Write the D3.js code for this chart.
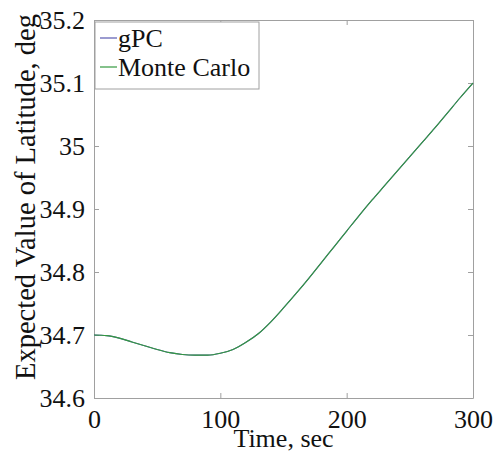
<!DOCTYPE html>
<html>
<head>
<meta charset="utf-8">
<script src="https://cdn.jsdelivr.net/npm/d3@7"></script>
<style>
    body { margin: 0; background: #fff; }
    svg { display: block; }
    text { font-family: "Liberation Serif", "Times New Roman", serif; fill: #111; }
</style>
</head>
<body>
<div id="chart"></div>
<script>
// Data (time in sec, latitude in deg)
const time = [0, 10, 20, 30, 40, 50, 60, 70, 80, 90, 100, 110, 120, 130, 140, 150,
    160, 170, 180, 190, 200, 210, 220, 230, 240, 250, 260, 270, 280, 290, 300]
const gpcLat = [34.700, 34.699, 34.695, 34.689, 34.683, 34.677, 34.672, 34.669, 34.668, 34.668,
    34.671, 34.677, 34.688, 34.702, 34.721, 34.743, 34.766, 34.790, 34.815, 34.840,
    34.865, 34.890, 34.914, 34.937, 34.960, 34.983, 35.006, 35.029, 35.053, 35.077, 35.100]
const monteCarloLat = [34.700, 34.699, 34.695, 34.689, 34.683, 34.677, 34.672, 34.669, 34.668, 34.668,
    34.671, 34.677, 34.688, 34.702, 34.721, 34.743, 34.766, 34.790, 34.815, 34.840,
    34.865, 34.890, 34.914, 34.937, 34.960, 34.983, 35.006, 35.029, 35.053, 35.077, 35.100]
const xTicks = [0, 100, 200, 300]
const yTicks = [34.6, 34.7, 34.8, 34.9, 35, 35.1, 35.2]
const seriesNames = ['gPC', 'Monte Carlo']
const seriesColors = ['#5858b0', '#33993f']

// Base settings
const settings = {
    width: 499,
    height: 454,
    margin: {left: 94, right: 26, top: 20, bottom: 56},
    frameColor: '#a0a0a0',
    fontSize: 26
}
const plotW = settings.width - settings.margin.left - settings.margin.right
const plotH = settings.height - settings.margin.top - settings.margin.bottom

const svg = d3.select('#chart').append('svg')
    .attr('width', settings.width)
    .attr('height', settings.height)

const x = d3.scaleLinear().domain([0, 300]).range([0, plotW])
const y = d3.scaleLinear().domain([34.6, 35.2]).range([plotH, 0])

const g = svg.append('g')
    .attr('transform', `translate(${settings.margin.left},${settings.margin.top})`)

drawAxes()
drawLines()
drawLegend()
drawLabels()

/* Box with inward ticks on all four sides, labels on left and bottom */
function drawAxes() {
    const bottom = g.append('g').attr('transform', `translate(0,${plotH})`)
        .call(d3.axisBottom(x).tickValues(xTicks).tickSizeInner(-5).tickSizeOuter(0).tickPadding(12))
    const top = g.append('g')
        .call(d3.axisTop(x).tickValues(xTicks).tickSizeInner(-5).tickSizeOuter(0).tickFormat(''))
    const left = g.append('g')
        .call(d3.axisLeft(y).tickValues(yTicks).tickSizeInner(-5).tickSizeOuter(0).tickPadding(9)
            .tickFormat(d3.format('')))
    const right = g.append('g').attr('transform', `translate(${plotW},0)`)
        .call(d3.axisRight(y).tickValues(yTicks).tickSizeInner(-5).tickSizeOuter(0).tickFormat(''))

    ;[bottom, top, left, right].forEach(a => {
        a.select('.domain').attr('stroke', settings.frameColor)
        a.selectAll('.tick line').attr('stroke', settings.frameColor)
        a.selectAll('text')
            .style('font-family', '"Liberation Serif", serif')
            .style('font-size', settings.fontSize + 'px')
            .attr('fill', '#111')
    })
    bottom.selectAll('text').attr('dy', '0.71em')
    left.selectAll('text').attr('dy', '0.33em')
}

function drawLines() {
    const line = d3.line()
        .x((d, i) => x(time[i]))
        .y(d => y(d))
        .curve(d3.curveMonotoneX)

    ;[gpcLat, monteCarloLat].forEach((values, i) => {
        g.append('path')
            .datum(values)
            .attr('d', line)
            .attr('fill', 'none')
            .attr('stroke', seriesColors[i])
            .attr('stroke-width', 1.1)
    })
}

function drawLegend() {
    const legend = g.append('g').attr('transform', 'translate(1,2)')
    legend.append('rect')
        .attr('width', 164)
        .attr('height', 67)
        .attr('fill', '#fff')
        .attr('stroke', settings.frameColor)

    seriesNames.forEach((name, i) => {
        const row = legend.append('g').attr('transform', `translate(0,${16 + i * 29})`)
        row.append('line')
            .attr('x1', 5).attr('x2', 22)
            .attr('stroke', seriesColors[i])
            .attr('stroke-width', 1.2)
        row.append('text')
            .attr('x', 23)
            .attr('dy', '0.36em')
            .style('font-size', settings.fontSize + 'px')
            .text(name)
    })
}

function drawLabels() {
    svg.append('text')
        .attr('x', settings.margin.left + plotW / 2)
        .attr('y', 447)
        .attr('text-anchor', 'middle')
        .style('font-size', settings.fontSize + 'px')
        .text('Time, sec')

    svg.append('text')
        .attr('transform', 'translate(35,197) rotate(-90)')
        .attr('text-anchor', 'middle')
        .style('font-size', '28.5px')
        .text('Expected Value of Latitude, deg')
}
</script>
</body>
</html>
